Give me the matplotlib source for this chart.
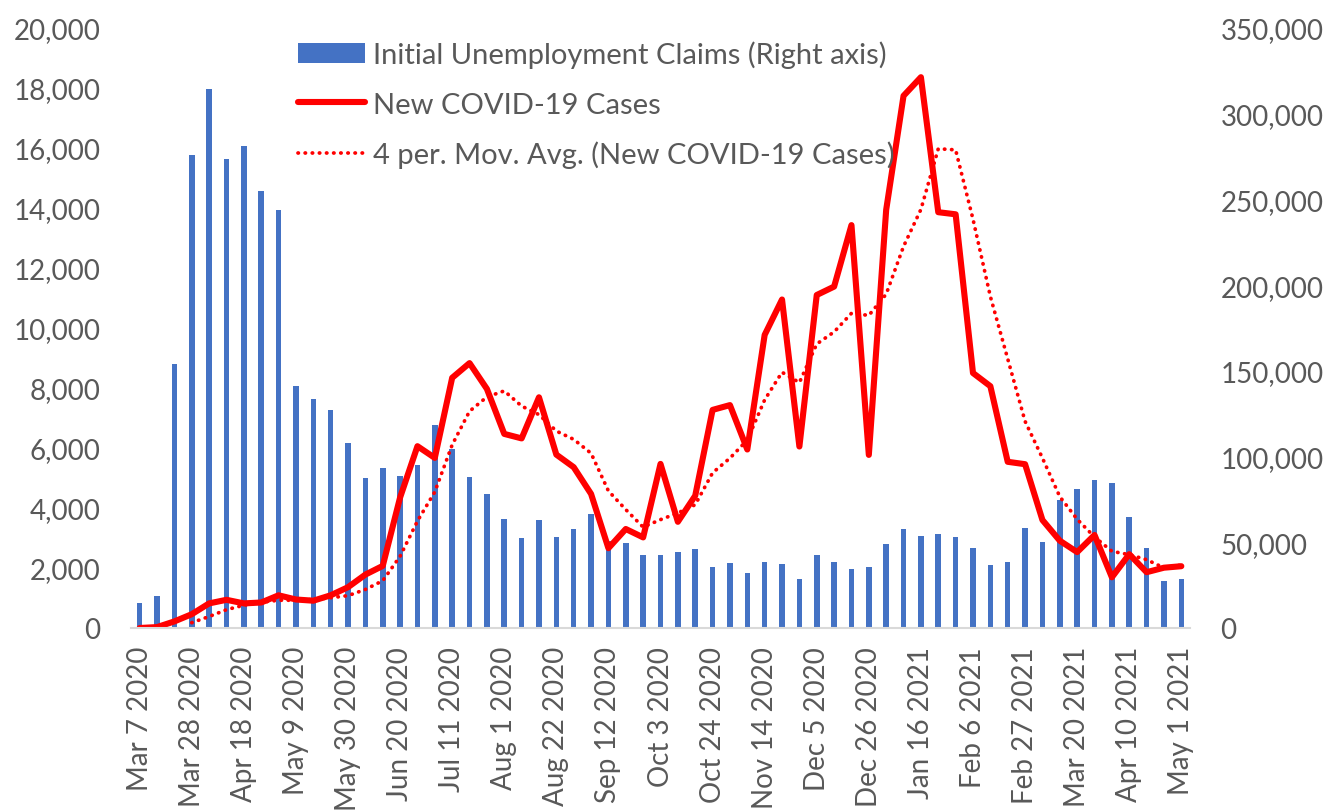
import pandas as pd
import numpy as np
import matplotlib.pyplot as plt
from matplotlib.ticker import FuncFormatter, MultipleLocator

plt.rcParams['font.family'] = ['Lato', 'DejaVu Sans']

# weekly dates (every week, Mar 7 2020 .. May 1 2021)
weeks = pd.date_range('2020-03-07', '2021-05-01', freq='7D')
week_labels = [f"{d.strftime('%b')} {d.day} {d.year}" for d in weeks]

# initial unemployment claims (right axis)
claims = [14500, 18400, 153800, 276000, 314300, 273400, 281200, 254800, 243800, 141200,
          133400, 127100, 107800, 87500, 93300, 88600, 95300, 118400, 104300, 88000,
          77900, 63750, 52500, 63000, 53250, 57750, 66500, 50900, 49400, 42400,
          42400, 44300, 45900, 35600, 38100, 31900, 38500, 37300, 28400, 42750,
          38500, 34600, 35500, 49000, 57750, 53400, 54600, 53000, 46900, 36600,
          38500, 58100, 50200, 74800, 81200, 86300, 84600, 64600, 46700, 27300,
          28800]

# new covid-19 cases (left axis)
cases = [0, 30, 220, 460, 820, 940, 820, 850, 1090, 950,
         910, 1090, 1360, 1780, 2070, 4350, 6060, 5670, 8340, 8830,
         7970, 6470, 6320, 7690, 5780, 5360, 4470, 2660, 3300, 3020,
         5470, 3540, 4410, 7270, 7430, 5950, 9770, 10950, 6050, 11100,
         11380, 13430, 5770, 13940, 17740, 18360, 13860, 13790, 8500, 8060,
         5540, 5460, 3600, 2910, 2530, 3100, 1690, 2460, 1860, 2010,
         2060]

df = pd.DataFrame({'week': week_labels, 'claims': claims, 'cases': cases})
# excel style trailing 4 period moving average trendline
df['ma4'] = df['cases'].rolling(4).mean()

x = np.arange(len(df))
grey = '#595959'

fig = plt.figure(figsize=(13.3, 8.12), dpi=100)
ax = fig.add_axes([131 / 1330, 1 - 629 / 812, (1190 - 131) / 1330, 600 / 812])
ax2 = ax.twinx()

ax2.bar(x, df['claims'], width=0.32, color='#4472C4',
        label='Initial Unemployment Claims (Right axis)')

ax.plot(x, df['cases'], color='#FF0000', linewidth=4.4,
        solid_joinstyle='round', solid_capstyle='round',
        label='New COVID-19 Cases')
ax.plot(x, df['ma4'], color='#FF0000', linewidth=2.7,
        linestyle=(0, (0.1, 1.8)), dash_capstyle='round',
        label='4 per. Mov. Avg. (New COVID-19 Cases)')

# line axis drawn above the bars
ax.set_zorder(ax2.get_zorder() + 1)
ax.patch.set_visible(False)

ax.set_xlim(-0.5, len(df) - 0.5)
ax.set_ylim(0, 20000)
ax2.set_ylim(0, 350000)
ax.yaxis.set_major_locator(MultipleLocator(2000))
ax2.yaxis.set_major_locator(MultipleLocator(50000))
fmt = FuncFormatter(lambda v, p: f'{v:,.0f}')
ax.yaxis.set_major_formatter(fmt)
ax2.yaxis.set_major_formatter(fmt)

ax.set_xticks(x[::3])
ax.set_xticklabels(df['week'][::3], rotation=90, va='top', ha='center')

for a in (ax, ax2):
    for s in a.spines.values():
        s.set_visible(False)
    a.tick_params(length=0, labelsize=20, labelcolor=grey)
ax.spines['bottom'].set_visible(True)
ax.spines['bottom'].set_color('#d9d9d9')
ax.spines['bottom'].set_linewidth(1.5)
ax.tick_params(axis='y', pad=22)
ax.tick_params(axis='x', pad=13)
ax2.tick_params(axis='y', pad=22)

h1, l1 = ax2.get_legend_handles_labels()
h2, l2 = ax.get_legend_handles_labels()
leg = ax.legend(h1 + h2, l1 + l2, loc='upper left',
                bbox_to_anchor=(283 / 1330, 1 - 27 / 812),
                bbox_transform=fig.transFigure, frameon=False,
                fontsize=21, labelcolor=grey, borderpad=0,
                handlelength=2.3, handletextpad=0.3, labelspacing=0.8)

plt.savefig('out.png', dpi=100)
